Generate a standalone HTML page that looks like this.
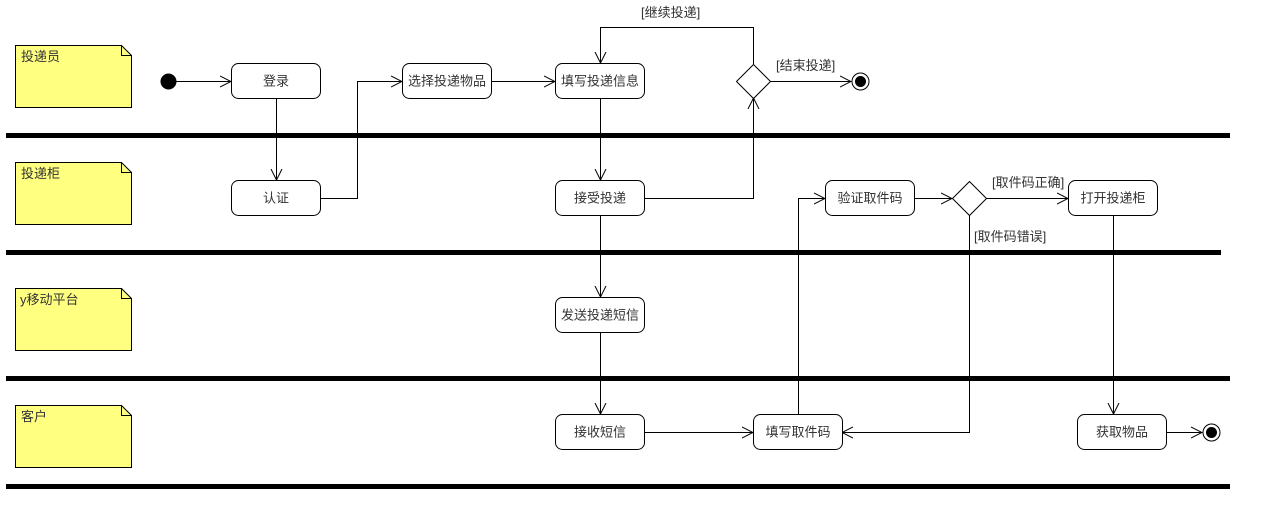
<!DOCTYPE html>
<html><head><meta charset="utf-8"><style>
html,body{margin:0;padding:0;background:#fff;width:1263px;height:521px;overflow:hidden}
text{font-family:"Liberation Sans","Noto Sans CJK SC",sans-serif;font-size:13px;fill:#333}
</style></head><body>
<svg width="1263" height="521" xmlns="http://www.w3.org/2000/svg">
<defs>
<marker id="a" markerWidth="12" markerHeight="12" refX="11" refY="6" orient="auto" markerUnits="userSpaceOnUse">
<path d="M0,0.5 L11,6 L0,11.5" fill="none" stroke="#000" stroke-width="1"/>
</marker>
</defs>
<!-- lane bars -->
<g fill="#000">
<rect x="6" y="133" width="1224" height="5"/>
<rect x="6" y="250" width="1215" height="5"/>
<rect x="6" y="376" width="1224" height="5"/>
<rect x="6" y="484" width="1224" height="5"/>
</g>
<!-- notes -->
<g fill="#ffff80" stroke="#000" stroke-width="1">
<path d="M15.5,45.5 H121.5 L131.5,55.5 V107.5 H15.5 Z"/><path d="M121.5,45.5 V55.5 H131.5" fill="none"/>
<path d="M15.5,162.5 H121.5 L131.5,172.5 V224.5 H15.5 Z"/><path d="M121.5,162.5 V172.5 H131.5" fill="none"/>
<path d="M15.5,288.5 H121.5 L131.5,298.5 V350.5 H15.5 Z"/><path d="M121.5,288.5 V298.5 H131.5" fill="none"/>
<path d="M15.5,405.5 H121.5 L131.5,415.5 V467.5 H15.5 Z"/><path d="M121.5,405.5 V415.5 H131.5" fill="none"/>
</g>
<text x="21" y="61">投递员</text>
<text x="21" y="178">投递柜</text>
<text x="20" y="304">y移动平台</text>
<text x="21" y="421">客户</text>
<!-- edges -->
<g fill="none" stroke="#000" stroke-width="1" marker-end="url(#a)">
<path d="M176,81.5 H231"/>
<path d="M276.5,98 V180"/>
<path d="M320,198.5 H357.5 V81.5 H402"/>
<path d="M491,81.5 H555"/>
<path d="M753.5,64 V27.5 H600.5 V63"/>
<path d="M600.5,98 V180"/>
<path d="M644,198.5 H753.5 V98"/>
<path d="M770,81.5 H851"/>
<path d="M600.5,215 V297"/>
<path d="M600.5,332 V414"/>
<path d="M644,432.5 H753"/>
<path d="M798.5,414 V198.5 H825"/>
<path d="M914,198.5 H952"/>
<path d="M986,198.5 H1068"/>
<path d="M969.5,215 V432.5 H842"/>
<path d="M1113.5,215 V414"/>
<path d="M1166,432.5 H1202"/>
</g>
<!-- nodes -->
<g fill="#fff" stroke="#000" stroke-width="1">
<rect x="231.5" y="63.5" width="89" height="35" rx="7"/>
<rect x="402.5" y="63.5" width="89" height="35" rx="7"/>
<rect x="555.5" y="63.5" width="89" height="35" rx="7"/>
<rect x="231.5" y="180.5" width="89" height="35" rx="7"/>
<rect x="555.5" y="180.5" width="89" height="35" rx="7"/>
<rect x="825.5" y="180.5" width="89" height="35" rx="7"/>
<rect x="1068.5" y="180.5" width="89" height="35" rx="7"/>
<rect x="555.5" y="297.5" width="89" height="35" rx="7"/>
<rect x="555.5" y="414.5" width="89" height="35" rx="7"/>
<rect x="753.5" y="414.5" width="89" height="35" rx="7"/>
<rect x="1077.5" y="414.5" width="89" height="35" rx="7"/>
<path d="M753.5,64.5 L770.5,81.5 L753.5,98.5 L736.5,81.5 Z"/>
<path d="M969.5,181.5 L986.5,198.5 L969.5,215.5 L952.5,198.5 Z"/>
<circle cx="860.5" cy="81.5" r="8.5"/>
<circle cx="1211.5" cy="432.5" r="8.5"/>
</g>
<circle cx="168.5" cy="81.5" r="8" fill="#000"/>
<circle cx="860.5" cy="81.5" r="5.5" fill="#000"/>
<circle cx="1211.5" cy="432.5" r="5.5" fill="#000"/>
<g text-anchor="middle">
<text x="276" y="85.5">登录</text>
<text x="447" y="85.5">选择投递物品</text>
<text x="600" y="85.5">填写投递信息</text>
<text x="276" y="202.5">认证</text>
<text x="600" y="202.5">接受投递</text>
<text x="870" y="202.5">验证取件码</text>
<text x="1113" y="202.5">打开投递柜</text>
<text x="600" y="319.5">发送投递短信</text>
<text x="600" y="436.5">接收短信</text>
<text x="798" y="436.5">填写取件码</text>
<text x="1122" y="436.5">获取物品</text>
</g>
<text x="641" y="17">[继续投递]</text>
<text x="776" y="70">[结束投递]</text>
<text x="992" y="187">[取件码正确]</text>
<text x="974" y="241">[取件码错误]</text>
</svg>
</body></html>
